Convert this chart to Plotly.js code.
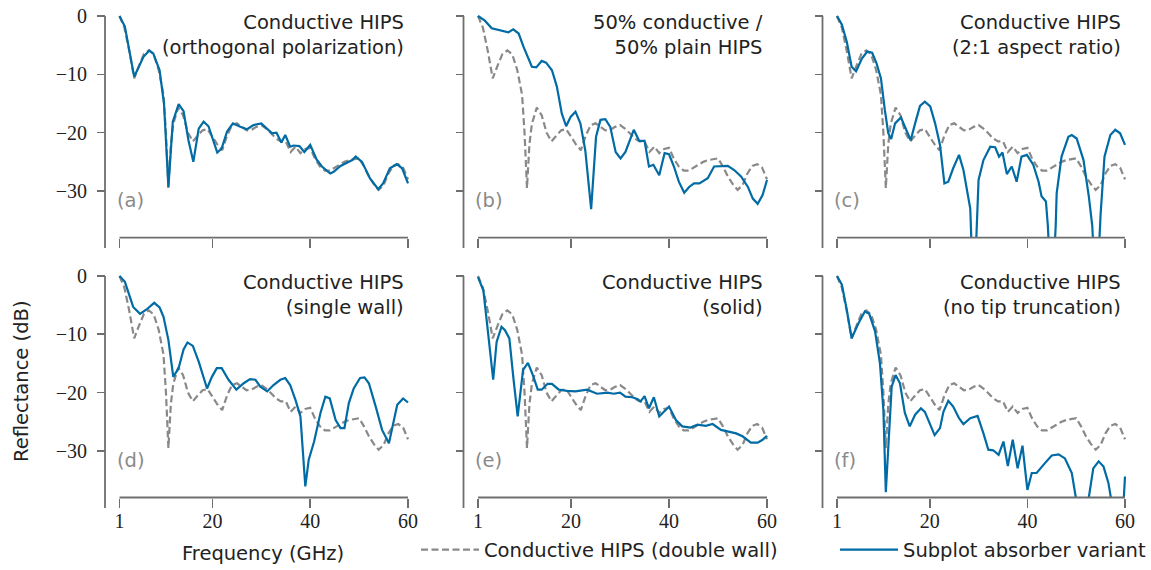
<!DOCTYPE html>
<html>
<head>
<meta charset="utf-8">
<script src="https://cdn.plot.ly/plotly-3.0.1.min.js"></script>
<style>html,body{margin:0;padding:0;background:#fff;}#chart{width:1151px;height:570px;}</style>
</head>
<body>
<div id="chart"></div>
<script>
// ---- Data ----
const refX = [1,2,3,4,5,6,7,8,9,10,10.5,11,11.5,12,13,14,15,16,17,18,19,20,21,22,23,24,25,26,27,28,29,30,31,32,33,34,35,36,37,38,39,40,41,42,43,44,45,46,47,48,49,50,51,52,53,54,55,56,57,58,59,60];
const refY = [0,-2,-6,-10.7,-8.5,-6.5,-5.9,-6.6,-9.2,-13.5,-20,-29.5,-22,-18.5,-15.7,-17,-20,-21.5,-20.5,-19.6,-19.4,-20.8,-22,-23,-20.5,-18.7,-18.4,-19,-19.6,-19.5,-19,-18.7,-19.3,-20.1,-21,-21.5,-21.5,-23.3,-22.4,-23.5,-22.8,-22.6,-24.5,-25.8,-26.5,-26.5,-26,-25.4,-25,-24.7,-24.5,-24.4,-25.8,-27.5,-28.8,-29.8,-29,-27,-25.7,-25.4,-26,-28];

const aX = [1,2.1,4,4.5,5.9,7.1,7.9,9.2,10.1,11,11.9,13.1,14.1,15.1,16.1,17.2,18.2,19.2,21,21.9,23,24.2,25.7,27.1,28.4,30,31.2,32.2,33.1,34.1,34.9,35.9,36.6,37.8,38.8,40,41.3,42.4,44.1,44.8,46.2,47.5,48.6,49.3,50.6,52.2,53.9,54.9,56.3,57.7,58.8,60];
const aY = [0,-1.8,-10.4,-9.5,-7,-5.9,-6.4,-9.3,-15,-29.3,-18.1,-15.1,-16.3,-21.3,-25,-19.3,-18.1,-18.9,-23.4,-22.7,-19.8,-18.4,-19,-19.4,-18.7,-18.4,-19.3,-20.1,-20,-21.7,-20.4,-22.4,-22.2,-22.3,-23.3,-22.1,-24.6,-25.8,-27,-26.7,-25.7,-25.1,-24.7,-24.1,-25,-27.8,-29.7,-28.7,-26.1,-25.4,-26.1,-28.7];

const bX = [1,2.4,3.8,5.2,6.2,7.2,8.2,9.3,10.3,12,12.9,14,14.9,16.1,17.1,18.1,19,19.9,20.9,21.9,22.9,24.1,25.1,26,27,28,29.1,30.1,31.1,32.8,33.9,35,35.9,36.8,38,39.1,40,41,42,43.1,44.1,45.1,46.2,47.9,49.2,50.6,52,53.3,54.7,56.1,57.1,58.1,59.1,60];
const bY = [0,-0.8,-2.1,-2.4,-2.5,-2.8,-2.3,-3,-5.3,-8.7,-8.8,-7.7,-8,-9.3,-12.1,-16.7,-18.9,-17.3,-16.4,-18.4,-23,-33.1,-20.7,-17.8,-17.7,-19,-23.3,-24.4,-23.3,-19.5,-21.4,-21.4,-25.8,-25.5,-27.3,-23.5,-23.7,-25.8,-28.4,-30.3,-29.3,-28.7,-28.7,-27.8,-25.8,-25.7,-25.7,-26.4,-27.5,-29.3,-31.3,-32.2,-30.7,-28.1];

const cX = [1,2,3,4,4.9,6.1,7.2,8.2,9.1,10,10.8,11.5,12.1,12.9,14.1,15.1,16.1,17,18,19,20.1,21.1,22.1,23,23.8,24.8,26,26.9,27.9,28.3,29,29.7,30,31,32.4,33.4,34.2,34.9,35.8,36.8,37.8,38.8,39.9,41.2,42.3,42.9,43.8,44.2,45,45.8,46,47,48.4,49.1,50.1,51.5,52.6,53.3,54.1,55,55.8,57,58,59,60];
const cY = [0,-1.5,-4.4,-8.7,-9.5,-7.3,-6.1,-6.3,-8.1,-10.7,-16.1,-20.1,-21.1,-18.4,-17.4,-19.5,-21.3,-18.4,-15.4,-14.7,-15.5,-18.4,-22.1,-28.7,-28.4,-26.1,-23.8,-26.4,-30.7,-33,-50,-33,-28.1,-24.7,-22.4,-22.5,-24.1,-23.4,-27.1,-25.8,-28.4,-24.1,-23.8,-25.5,-28.4,-30.9,-31.8,-36,-50,-36,-30.4,-24.1,-20.7,-20.4,-21,-24.7,-31,-36,-50,-34,-24.1,-20.4,-19.5,-20.1,-22.1];

const dX = [1,2.1,3.8,5.2,6.6,8.1,9.2,10,11,12,13.1,14.1,14.9,16,17.2,18.9,19.9,20.9,21.9,23.3,24.9,26.4,27.7,28.8,29.8,31.2,32.5,33.9,34.9,35.9,37,38,39,39.7,40.8,42.1,43.1,44,45.2,46.2,47,47.9,48.9,50.2,51.1,52,53.4,54.7,56.1,56.8,57.8,59,60];
const dY = [0,-1,-5.3,-6.5,-5.7,-4.6,-5.4,-7,-11,-17.3,-15.8,-12.6,-11.4,-12,-14.7,-19.3,-17.3,-15.8,-15.8,-17.8,-19.5,-18.4,-17.7,-17.8,-19,-19.8,-18.7,-17.8,-17.5,-18.7,-21.3,-24.1,-36.1,-31.5,-28.4,-23.5,-20.7,-21,-24.7,-26.1,-26.1,-21.8,-19.3,-17.5,-17.4,-18.4,-22.4,-26.4,-28.7,-26.1,-22.1,-21,-21.7];

const eX = [1,2.1,3.1,4.1,4.8,5.8,6.5,7.4,8.2,9.1,10.2,11.2,12.2,13.2,14,15.2,16.1,17.5,19.2,20.9,23.3,25.3,27.4,28.7,30,31.1,32.5,33.5,34.2,35,35.9,36.9,38,39,40,41.4,42.7,44.4,45.8,47.5,48.9,50.6,52,53.7,55,56.7,58.1,59.1,60];
const eY = [-0.2,-2.5,-10.1,-17.8,-11.3,-8.7,-9.3,-10.7,-17.3,-24.1,-16.1,-14.9,-17,-19.5,-19.5,-18.5,-18.5,-19.5,-19.7,-19.8,-19.5,-20.2,-20,-20.2,-20,-20.7,-20.8,-21.1,-21.5,-20.6,-22.7,-20.8,-24.1,-23.3,-22.4,-24.7,-25.8,-26,-25.5,-25.7,-25.4,-26.4,-26.7,-27,-27.5,-28.6,-28.6,-28.1,-27.4];

const fX = [1,2,3,4,5.4,6.7,7.6,8.8,9.8,10.5,11,11.7,12.2,13,13.9,14.9,15.9,17,18.2,19,20.1,21,22.1,22.8,23.8,24.8,26,26.9,28.3,29.8,31,32,33,34.1,35.1,36,37,38,39,40,40.9,41.9,43.6,45,46.4,47.7,49.1,50.3,51.3,52.4,53.5,54.6,55.6,56.6,57.3,58.5,59.5,60];
const fY = [0,-1.5,-5.8,-10.7,-8.1,-6.1,-6.5,-9.5,-15,-23,-37.1,-27,-19,-17,-18.4,-23.5,-25.8,-23.8,-22.7,-23.3,-25.5,-27.3,-26.1,-23.3,-21.4,-22.4,-24.4,-25.4,-24.4,-24,-27,-29.8,-29.9,-30.7,-28.4,-32.6,-28.1,-33,-29.1,-36.7,-33.8,-33.8,-32.1,-30.8,-30.6,-31.3,-33.8,-40,-45,-39,-33,-31.8,-32.7,-35.5,-38.5,-45,-42,-34.4];

const panelTitles = ["Conductive HIPS<br>(orthogonal polarization)","50% conductive /<br>50% plain HIPS","Conductive HIPS<br>(2:1 aspect ratio)","Conductive HIPS<br>(single wall)","Conductive HIPS<br>(solid)","Conductive HIPS<br>(no tip truncation)"];
const panelLabels = ["(a)","(b)","(c)","(d)","(e)","(f)"];
const xTicks = [1,20,40,60];
const yTicks = [0,-10,-20,-30];
const refName = "Conductive HIPS (double wall)";
const varName = "Subplot absorber variant";
const xTitle = "Frequency (GHz)";
const yTitle = "Reflectance (dB)";

const variants = [[aX,aY],[bX,bY],[cX,cY],[dX,dY],[eX,eY],[fX,fY]];

// ---- Layout geometry (pixels) ----
const W = 1151, H = 570;
const PX = v => v / W, PY = v => 1 - v / H;
const cols = [{x1:119.5,x60:408,yl:105},{x1:478,x60:767,yl:463.5},{x1:837,x60:1125,yl:822.5}];
const rows = [{y0:16,yb:237.7,ye:248},{y0:276,yb:497.5,ye:508}];
const XLO = 0.7, XHI = 60.3, YLO = -38, YHI = 0.5;
const BLUE = '#006BA4', GRAY = '#898989', AX = '#6e6e6e', TXT = '#222222';
const SANS = '"DejaVu Sans", "Open Sans", sans-serif';
const SERIF = '"Liberation Serif", "DejaVu Serif", serif';
const FS = 19.5;

const traces = [];
const layout = {
  width: W, height: H,
  margin: {l:0,r:0,t:0,b:0},
  paper_bgcolor: '#fff', plot_bgcolor: 'rgba(0,0,0,0)',
  showlegend: true,
  shapes: [], annotations: [],
  legend: {orientation:'h', x: PX(416), y: PY(550), xanchor:'left', yanchor:'middle', font:{family:SANS,size:FS,color:TXT}, bgcolor:'rgba(0,0,0,0)', itemwidth:58},
  legend2: {orientation:'h', x: PX(835), y: PY(550), xanchor:'left', yanchor:'middle', font:{family:SANS,size:FS,color:TXT}, bgcolor:'rgba(0,0,0,0)', itemwidth:58}
};

for (let i = 0; i < 6; i++) {
  const r = rows[Math.floor(i/3)], c = cols[i%3];
  const sfx = i === 0 ? '' : String(i+1);
  const ppg = (c.x60 - c.x1) / 59;
  const ppd = (r.yb - r.y0) / 38;
  const xl = c.x1 - (1 - XLO) * ppg, xr = c.x60 + (XHI - 60) * ppg;
  const yt = r.y0 - YHI * ppd;
  layout['xaxis'+sfx] = {
    domain:[PX(xl), PX(xr)], range:[XLO, XHI], anchor:'y'+sfx,
    tickvals:xTicks, ticktext:xTicks.map(String), ticks:'outside', ticklen:9, tickwidth:1.6, tickcolor:AX,
    showticklabels: i >= 3, tickfont:{family:SERIF,size:20,color:TXT}, ticklabelstandoff:-4,
    showline:false, showgrid:false, zeroline:false, fixedrange:true
  };
  layout['yaxis'+sfx] = {
    domain:[PY(r.yb), PY(yt)], range:[YLO, YHI], anchor:'free', position:PX(c.yl),
    tickvals:yTicks, ticks:'outside', ticklen:8, tickwidth:1.6, tickcolor:AX,
    showticklabels: i % 3 === 0, tickfont:{family:SERIF,size:20,color:TXT}, ticklabelstandoff:6,
    showline:false, showgrid:false, zeroline:false, fixedrange:true
  };
  // despined axis lines
  layout.shapes.push({type:'line', xref:'paper', yref:'paper', x0:PX(c.x1), x1:PX(c.x60), y0:PY(r.yb), y1:PY(r.yb), line:{color:AX,width:1.8}});
  layout.shapes.push({type:'line', xref:'paper', yref:'paper', x0:PX(c.yl), x1:PX(c.yl), y0:PY(r.y0), y1:PY(r.ye), line:{color:AX,width:1.8}});
  traces.push({x:refX, y:refY, xaxis:'x'+sfx, yaxis:'y'+sfx, type:'scatter', mode:'lines', name:refName,
    line:{color:GRAY, width:2.2, dash:'7px,3.5px'}, showlegend: i===0, legend:'legend', hoverinfo:'skip'});
  traces.push({x:variants[i][0], y:variants[i][1], xaxis:'x'+sfx, yaxis:'y'+sfx, type:'scatter', mode:'lines', name:varName,
    line:{color:BLUE, width:2.2}, showlegend: i===0, legend:'legend2', hoverinfo:'skip'});
  layout.annotations.push({xref:'paper', yref:'paper', x:PX(c.x60-2), y:PY(r.y0 - 7), xanchor:'right', yanchor:'top', align:'right',
    text:panelTitles[i], showarrow:false, font:{family:SANS,size:FS,color:TXT}});
  layout.annotations.push({xref:'paper', yref:'paper', x:PX(c.x1-5), y:PY(r.y0+184), xanchor:'left', yanchor:'middle',
    text:panelLabels[i], showarrow:false, font:{family:SANS,size:FS,color:'#8a8a8a'}});
}
layout.annotations.push({xref:'paper', yref:'paper', x:PX(263), y:PY(553), xanchor:'center', yanchor:'middle', text:xTitle, showarrow:false, font:{family:SANS,size:FS,color:TXT}});
layout.annotations.push({xref:'paper', yref:'paper', x:PX(21), y:PY(381), xanchor:'center', yanchor:'middle', textangle:-90, text:yTitle, showarrow:false, font:{family:SANS,size:FS,color:TXT}});

Plotly.newPlot('chart', traces, layout, {staticPlot:true, displayModeBar:false});
</script>
</body>
</html>
